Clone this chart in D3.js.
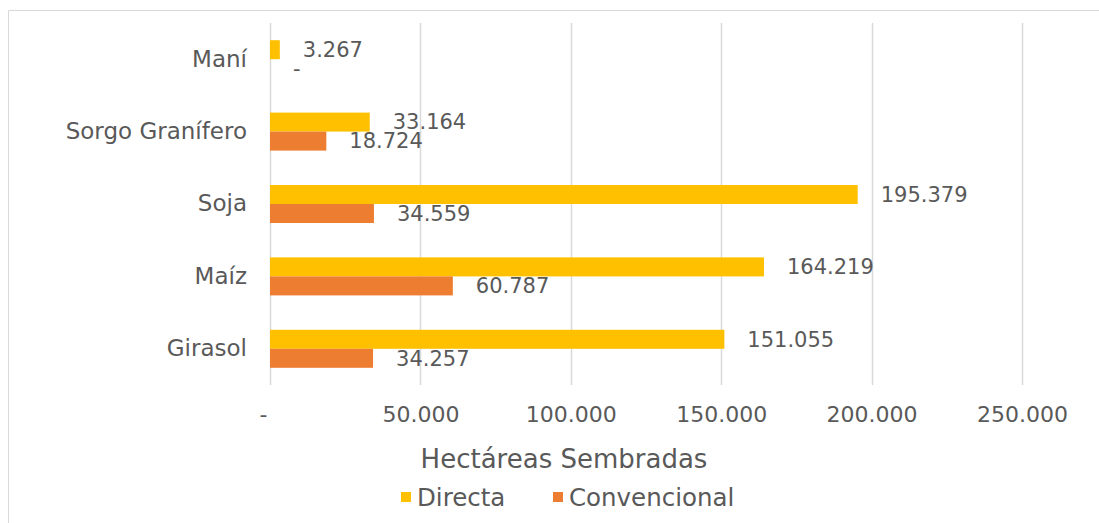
<!DOCTYPE html>
<html>
<head>
<meta charset="utf-8">
<script src="https://cdn.jsdelivr.net/npm/d3@7"></script>
<style>
  body { margin: 0; background: #fff; }
  text { font-family: "DejaVu Sans", sans-serif; fill: #595959; }
</style>
</head>
<body>
<div id="chart"></div>
<script>
var categories = ['Maní', 'Sorgo Granífero', 'Soja', 'Maíz', 'Girasol'];
var seriesNames = ['Directa', 'Convencional'];
var directa = [3267, 33164, 195379, 164219, 151055];
var convencional = [0, 18724, 34559, 60787, 34257];
var xTicks = [0, 50000, 100000, 150000, 200000, 250000];
var axisTitle = 'Hectáreas Sembradas';

var width = 1099,
    height = 523,
    colors = ['#FFC000', '#ED7D31'],
    fontFamily = '"DejaVu Sans", sans-serif';

var locale = d3.formatLocale({ decimal: ',', thousands: '.', grouping: [3], currency: ['$', ''] });
var fmt = function (v) { return v === 0 ? '-' : locale.format(',d')(v); };

var svg = d3.select('#chart').append('svg')
    .attr('width', width)
    .attr('height', height);

// chart area frame (only left and top visible in the crop)
svg.append('path')
    .attr('d', 'M8.5,' + height + 'V10.5H' + width)
    .attr('fill', 'none')
    .attr('stroke', '#D9D9D9');

var x = d3.scaleLinear().domain([0, 250000]).range([270, 1022]);
var y = d3.scaleBand().domain(categories).range([23, 385])
    .paddingInner(0.475).paddingOuter(0.2375);
var ySub = d3.scaleBand().domain(seriesNames).range([0, y.bandwidth()]);

// gridlines
svg.append('g').selectAll('line')
    .data(xTicks)
    .enter().append('line')
    .attr('x1', function (d) { return Math.round(x(d)) + 0.5; })
    .attr('x2', function (d) { return Math.round(x(d)) + 0.5; })
    .attr('y1', 23)
    .attr('y2', 385)
    .attr('stroke', '#D9D9D9')
    .attr('stroke-width', 1.5);

// x tick labels
var xAxis = svg.append('g')
    .attr('transform', 'translate(0,385)')
    .call(d3.axisBottom(x).tickValues(xTicks).tickFormat(fmt).tickSize(0).tickPadding(21));
xAxis.select('.domain').remove();
xAxis.selectAll('text')
    .style('font-size', '22px')
    .style('fill', '#595959')
    .style('font-family', fontFamily)
    .attr('dx', function (d) { return d === 0 ? -7 : 0; });

// category labels
var yAxis = svg.append('g')
    .attr('transform', 'translate(270,0)')
    .call(d3.axisLeft(y).tickSize(0).tickPadding(23));
yAxis.select('.domain').remove();
yAxis.selectAll('text')
    .style('font-size', '23px')
    .style('fill', '#595959')
    .style('font-family', fontFamily);

var rows = categories.map(function (c, i) {
    return { cat: c, values: [directa[i], convencional[i]] };
});

var group = svg.selectAll('.cat')
    .data(rows)
    .enter().append('g')
    .attr('class', 'cat')
    .attr('transform', function (d) { return 'translate(0,' + y(d.cat) + ')'; });

var cell = group.selectAll('.bar')
    .data(function (d) {
        return d.values.map(function (v, j) { return { name: seriesNames[j], value: v, idx: j }; });
    })
    .enter().append('g')
    .attr('class', 'bar');

cell.append('rect')
    .attr('x', x(0))
    .attr('y', function (d) { return ySub(d.name); })
    .attr('width', function (d) { return x(d.value) - x(0); })
    .attr('height', ySub.bandwidth())
    .attr('fill', function (d) { return colors[d.idx]; });

cell.append('text')
    .attr('x', function (d) { return x(d.value) + 23; })
    .attr('y', function (d) { return ySub(d.name) + ySub.bandwidth() / 2; })
    .attr('dy', '0.35em')
    .style('font-size', '21px')
    .text(function (d) { return fmt(d.value); });

// axis title
svg.append('text')
    .attr('x', 564)
    .attr('y', 459)
    .attr('dy', '0.35em')
    .attr('text-anchor', 'middle')
    .style('font-size', '26px')
    .text(axisTitle);

// legend
var legend = svg.selectAll('.legend')
    .data(seriesNames)
    .enter().append('g')
    .attr('class', 'legend')
    .attr('transform', function (d, i) { return 'translate(' + [401, 553][i] + ',497)'; });

legend.append('rect')
    .attr('x', 0)
    .attr('y', -5)
    .attr('width', 10)
    .attr('height', 10)
    .attr('fill', function (d, i) { return colors[i]; });

legend.append('text')
    .attr('x', 16)
    .attr('dy', '0.35em')
    .style('font-size', '24.5px')
    .text(function (d) { return d; });
</script>
</body>
</html>
